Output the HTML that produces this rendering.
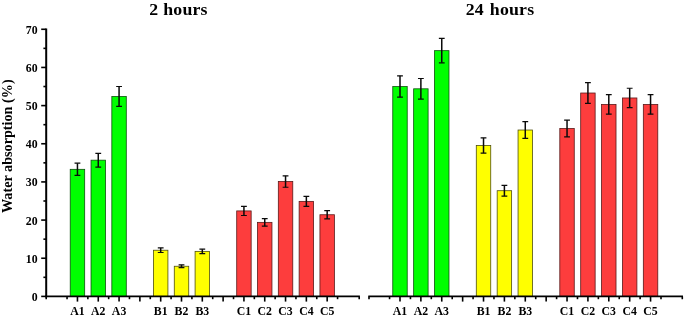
<!DOCTYPE html>
<html><head><meta charset="utf-8"><title>Water absorption</title>
<style>
html,body{margin:0;padding:0;background:#fff}
svg text{font-family:"Liberation Serif",serif;font-weight:bold;fill:#000}
.t{font-size:12.3px}
.h{font-size:17.8px;word-spacing:1.3px;letter-spacing:0.2px}
.yl{font-size:14.2px}
</style></head><body>
<svg width="685" height="319" viewBox="0 0 685 319" style="display:block">
<rect width="685" height="319" fill="#fff"/>
<rect x="70.23" y="169.33" width="14.45" height="127.07" fill="#00ff00" stroke="#0f4f0f" stroke-width="0.8"/>
<rect x="91.04" y="160.17" width="14.45" height="136.23" fill="#00ff00" stroke="#0f4f0f" stroke-width="0.8"/>
<rect x="111.84" y="96.44" width="14.45" height="199.96" fill="#00ff00" stroke="#0f4f0f" stroke-width="0.8"/>
<rect x="153.47" y="250.23" width="14.45" height="46.17" fill="#ffff00" stroke="#4f4f0f" stroke-width="0.8"/>
<rect x="174.28" y="266.25" width="14.45" height="30.15" fill="#ffff00" stroke="#4f4f0f" stroke-width="0.8"/>
<rect x="195.09" y="251.37" width="14.45" height="45.03" fill="#ffff00" stroke="#4f4f0f" stroke-width="0.8"/>
<rect x="236.71" y="210.92" width="14.45" height="85.48" fill="#fd3d3d" stroke="#5a1a1a" stroke-width="0.8"/>
<rect x="257.51" y="222.37" width="14.45" height="74.03" fill="#fd3d3d" stroke="#5a1a1a" stroke-width="0.8"/>
<rect x="278.32" y="181.54" width="14.45" height="114.86" fill="#fd3d3d" stroke="#5a1a1a" stroke-width="0.8"/>
<rect x="299.13" y="201.38" width="14.45" height="95.02" fill="#fd3d3d" stroke="#5a1a1a" stroke-width="0.8"/>
<rect x="319.94" y="214.74" width="14.45" height="81.66" fill="#fd3d3d" stroke="#5a1a1a" stroke-width="0.8"/>
<path d="M77.45 163.22V175.43" stroke="#0a0a0a" stroke-width="1.5" fill="none"/>
<path d="M74.55 163.22h5.8M74.55 175.43h5.8" stroke="#0a0a0a" stroke-width="1.2" fill="none"/>
<path d="M98.26 153.30V167.04" stroke="#0a0a0a" stroke-width="1.5" fill="none"/>
<path d="M95.36 153.30h5.8M95.36 167.04h5.8" stroke="#0a0a0a" stroke-width="1.2" fill="none"/>
<path d="M119.07 86.52V106.36" stroke="#0a0a0a" stroke-width="1.5" fill="none"/>
<path d="M116.17 86.52h5.8M116.17 106.36h5.8" stroke="#0a0a0a" stroke-width="1.2" fill="none"/>
<path d="M160.69 247.94V252.52" stroke="#0a0a0a" stroke-width="1.5" fill="none"/>
<path d="M157.79 247.94h5.8M157.79 252.52h5.8" stroke="#0a0a0a" stroke-width="1.2" fill="none"/>
<path d="M181.50 264.84V267.67" stroke="#0a0a0a" stroke-width="1.5" fill="none"/>
<path d="M178.60 264.84h5.8M178.60 267.67h5.8" stroke="#0a0a0a" stroke-width="1.2" fill="none"/>
<path d="M202.31 249.20V253.55" stroke="#0a0a0a" stroke-width="1.5" fill="none"/>
<path d="M199.41 249.20h5.8M199.41 253.55h5.8" stroke="#0a0a0a" stroke-width="1.2" fill="none"/>
<path d="M243.93 206.34V215.50" stroke="#0a0a0a" stroke-width="1.5" fill="none"/>
<path d="M241.03 206.34h5.8M241.03 215.50h5.8" stroke="#0a0a0a" stroke-width="1.2" fill="none"/>
<path d="M264.74 218.55V226.19" stroke="#0a0a0a" stroke-width="1.5" fill="none"/>
<path d="M261.84 218.55h5.8M261.84 226.19h5.8" stroke="#0a0a0a" stroke-width="1.2" fill="none"/>
<path d="M285.55 175.81V187.26" stroke="#0a0a0a" stroke-width="1.5" fill="none"/>
<path d="M282.65 175.81h5.8M282.65 187.26h5.8" stroke="#0a0a0a" stroke-width="1.2" fill="none"/>
<path d="M306.36 196.42V206.34" stroke="#0a0a0a" stroke-width="1.5" fill="none"/>
<path d="M303.46 196.42h5.8M303.46 206.34h5.8" stroke="#0a0a0a" stroke-width="1.2" fill="none"/>
<path d="M327.17 210.54V218.94" stroke="#0a0a0a" stroke-width="1.5" fill="none"/>
<path d="M324.27 210.54h5.8M324.27 218.94h5.8" stroke="#0a0a0a" stroke-width="1.2" fill="none"/>
<rect x="392.77" y="86.52" width="14.45" height="209.88" fill="#00ff00" stroke="#0f4f0f" stroke-width="0.8"/>
<rect x="413.65" y="88.81" width="14.45" height="207.59" fill="#00ff00" stroke="#0f4f0f" stroke-width="0.8"/>
<rect x="434.53" y="50.65" width="14.45" height="245.75" fill="#00ff00" stroke="#0f4f0f" stroke-width="0.8"/>
<rect x="476.29" y="145.48" width="14.45" height="150.92" fill="#ffff00" stroke="#4f4f0f" stroke-width="0.8"/>
<rect x="497.17" y="190.70" width="14.45" height="105.70" fill="#ffff00" stroke="#4f4f0f" stroke-width="0.8"/>
<rect x="518.05" y="130.02" width="14.45" height="166.38" fill="#ffff00" stroke="#4f4f0f" stroke-width="0.8"/>
<rect x="559.81" y="128.50" width="14.45" height="167.90" fill="#fd3d3d" stroke="#5a1a1a" stroke-width="0.8"/>
<rect x="580.69" y="93.01" width="14.45" height="203.39" fill="#fd3d3d" stroke="#5a1a1a" stroke-width="0.8"/>
<rect x="601.57" y="104.46" width="14.45" height="191.94" fill="#fd3d3d" stroke="#5a1a1a" stroke-width="0.8"/>
<rect x="622.45" y="97.97" width="14.45" height="198.43" fill="#fd3d3d" stroke="#5a1a1a" stroke-width="0.8"/>
<rect x="643.33" y="104.46" width="14.45" height="191.94" fill="#fd3d3d" stroke="#5a1a1a" stroke-width="0.8"/>
<path d="M400.00 75.84V97.20" stroke="#0a0a0a" stroke-width="1.5" fill="none"/>
<path d="M397.10 75.84h5.8M397.10 97.20h5.8" stroke="#0a0a0a" stroke-width="1.2" fill="none"/>
<path d="M420.88 78.51V99.11" stroke="#0a0a0a" stroke-width="1.5" fill="none"/>
<path d="M417.98 78.51h5.8M417.98 99.11h5.8" stroke="#0a0a0a" stroke-width="1.2" fill="none"/>
<path d="M441.76 38.44V62.86" stroke="#0a0a0a" stroke-width="1.5" fill="none"/>
<path d="M438.86 38.44h5.8M438.86 62.86h5.8" stroke="#0a0a0a" stroke-width="1.2" fill="none"/>
<path d="M483.52 137.85V153.11" stroke="#0a0a0a" stroke-width="1.5" fill="none"/>
<path d="M480.62 137.85h5.8M480.62 153.11h5.8" stroke="#0a0a0a" stroke-width="1.2" fill="none"/>
<path d="M504.40 185.35V196.04" stroke="#0a0a0a" stroke-width="1.5" fill="none"/>
<path d="M501.50 185.35h5.8M501.50 196.04h5.8" stroke="#0a0a0a" stroke-width="1.2" fill="none"/>
<path d="M525.28 121.63V138.42" stroke="#0a0a0a" stroke-width="1.5" fill="none"/>
<path d="M522.38 121.63h5.8M522.38 138.42h5.8" stroke="#0a0a0a" stroke-width="1.2" fill="none"/>
<path d="M567.04 120.10V136.89" stroke="#0a0a0a" stroke-width="1.5" fill="none"/>
<path d="M564.14 120.10h5.8M564.14 136.89h5.8" stroke="#0a0a0a" stroke-width="1.2" fill="none"/>
<path d="M587.92 82.63V103.39" stroke="#0a0a0a" stroke-width="1.5" fill="none"/>
<path d="M585.02 82.63h5.8M585.02 103.39h5.8" stroke="#0a0a0a" stroke-width="1.2" fill="none"/>
<path d="M608.80 94.72V114.19" stroke="#0a0a0a" stroke-width="1.5" fill="none"/>
<path d="M605.90 94.72h5.8M605.90 114.19h5.8" stroke="#0a0a0a" stroke-width="1.2" fill="none"/>
<path d="M629.68 88.24V107.70" stroke="#0a0a0a" stroke-width="1.5" fill="none"/>
<path d="M626.78 88.24h5.8M626.78 107.70h5.8" stroke="#0a0a0a" stroke-width="1.2" fill="none"/>
<path d="M650.56 94.72V114.19" stroke="#0a0a0a" stroke-width="1.5" fill="none"/>
<path d="M647.66 94.72h5.8M647.66 114.19h5.8" stroke="#0a0a0a" stroke-width="1.2" fill="none"/>
<path d="M46.20 28.48V297.35" stroke="#000" stroke-width="2" fill="none"/>
<path d="M45.20 296.40H359.90M368.30 296.40H683.00" stroke="#000" stroke-width="1.9" fill="none"/>
<path d="M41.20 296.40H46.20" stroke="#000" stroke-width="1.6"/>
<text transform="translate(37.60 300.90) scale(.96 1.07)" text-anchor="end" class="t">0</text>
<path d="M41.20 258.24H46.20" stroke="#000" stroke-width="1.6"/>
<text transform="translate(37.60 262.74) scale(.96 1.07)" text-anchor="end" class="t">10</text>
<path d="M41.20 220.08H46.20" stroke="#000" stroke-width="1.6"/>
<text transform="translate(37.60 224.58) scale(.96 1.07)" text-anchor="end" class="t">20</text>
<path d="M41.20 181.92H46.20" stroke="#000" stroke-width="1.6"/>
<text transform="translate(37.60 186.42) scale(.96 1.07)" text-anchor="end" class="t">30</text>
<path d="M41.20 143.76H46.20" stroke="#000" stroke-width="1.6"/>
<text transform="translate(37.60 148.26) scale(.96 1.07)" text-anchor="end" class="t">40</text>
<path d="M41.20 105.60H46.20" stroke="#000" stroke-width="1.6"/>
<text transform="translate(37.60 110.10) scale(.96 1.07)" text-anchor="end" class="t">50</text>
<path d="M41.20 67.44H46.20" stroke="#000" stroke-width="1.6"/>
<text transform="translate(37.60 71.94) scale(.96 1.07)" text-anchor="end" class="t">60</text>
<path d="M41.20 29.28H46.20" stroke="#000" stroke-width="1.6"/>
<text transform="translate(37.60 33.78) scale(.96 1.07)" text-anchor="end" class="t">70</text>
<path d="M43.40 277.32H46.20" stroke="#000" stroke-width="1.6"/>
<path d="M43.40 239.16H46.20" stroke="#000" stroke-width="1.6"/>
<path d="M43.40 201.00H46.20" stroke="#000" stroke-width="1.6"/>
<path d="M43.40 162.84H46.20" stroke="#000" stroke-width="1.6"/>
<path d="M43.40 124.68H46.20" stroke="#000" stroke-width="1.6"/>
<path d="M43.40 86.52H46.20" stroke="#000" stroke-width="1.6"/>
<path d="M43.40 48.36H46.20" stroke="#000" stroke-width="1.6"/>
<path d="M77.45 296.40v5.2" stroke="#000" stroke-width="1.6"/>
<path d="M98.26 296.40v5.2" stroke="#000" stroke-width="1.6"/>
<path d="M119.07 296.40v5.2" stroke="#000" stroke-width="1.6"/>
<path d="M139.88 296.40v5.2" stroke="#000" stroke-width="1.6"/>
<path d="M160.69 296.40v5.2" stroke="#000" stroke-width="1.6"/>
<path d="M181.50 296.40v5.2" stroke="#000" stroke-width="1.6"/>
<path d="M202.31 296.40v5.2" stroke="#000" stroke-width="1.6"/>
<path d="M223.12 296.40v5.2" stroke="#000" stroke-width="1.6"/>
<path d="M243.93 296.40v5.2" stroke="#000" stroke-width="1.6"/>
<path d="M264.74 296.40v5.2" stroke="#000" stroke-width="1.6"/>
<path d="M285.55 296.40v5.2" stroke="#000" stroke-width="1.6"/>
<path d="M306.36 296.40v5.2" stroke="#000" stroke-width="1.6"/>
<path d="M327.17 296.40v5.2" stroke="#000" stroke-width="1.6"/>
<path d="M67.05 296.40v2.8" stroke="#000" stroke-width="1.6"/>
<path d="M87.86 296.40v2.8" stroke="#000" stroke-width="1.6"/>
<path d="M108.66 296.40v2.8" stroke="#000" stroke-width="1.6"/>
<path d="M129.47 296.40v2.8" stroke="#000" stroke-width="1.6"/>
<path d="M150.28 296.40v2.8" stroke="#000" stroke-width="1.6"/>
<path d="M171.09 296.40v2.8" stroke="#000" stroke-width="1.6"/>
<path d="M191.91 296.40v2.8" stroke="#000" stroke-width="1.6"/>
<path d="M212.71 296.40v2.8" stroke="#000" stroke-width="1.6"/>
<path d="M233.52 296.40v2.8" stroke="#000" stroke-width="1.6"/>
<path d="M254.33 296.40v2.8" stroke="#000" stroke-width="1.6"/>
<path d="M275.14 296.40v2.8" stroke="#000" stroke-width="1.6"/>
<path d="M295.95 296.40v2.8" stroke="#000" stroke-width="1.6"/>
<path d="M316.76 296.40v2.8" stroke="#000" stroke-width="1.6"/>
<path d="M337.57 296.40v2.8" stroke="#000" stroke-width="1.6"/>
<path d="M46.20 296.40v2.8M359.20 296.40v2.8" stroke="#000" stroke-width="1.6"/>
<text transform="translate(77.45 314.80) scale(.96 1.07)" text-anchor="middle" class="t">A1</text>
<text transform="translate(98.26 314.80) scale(.96 1.07)" text-anchor="middle" class="t">A2</text>
<text transform="translate(119.07 314.80) scale(.96 1.07)" text-anchor="middle" class="t">A3</text>
<text transform="translate(160.69 314.80) scale(.96 1.07)" text-anchor="middle" class="t">B1</text>
<text transform="translate(181.50 314.80) scale(.96 1.07)" text-anchor="middle" class="t">B2</text>
<text transform="translate(202.31 314.80) scale(.96 1.07)" text-anchor="middle" class="t">B3</text>
<text transform="translate(243.93 314.80) scale(.96 1.07)" text-anchor="middle" class="t">C1</text>
<text transform="translate(264.74 314.80) scale(.96 1.07)" text-anchor="middle" class="t">C2</text>
<text transform="translate(285.55 314.80) scale(.96 1.07)" text-anchor="middle" class="t">C3</text>
<text transform="translate(306.36 314.80) scale(.96 1.07)" text-anchor="middle" class="t">C4</text>
<text transform="translate(327.17 314.80) scale(.96 1.07)" text-anchor="middle" class="t">C5</text>
<path d="M400.00 296.40v5.2" stroke="#000" stroke-width="1.6"/>
<path d="M420.88 296.40v5.2" stroke="#000" stroke-width="1.6"/>
<path d="M441.76 296.40v5.2" stroke="#000" stroke-width="1.6"/>
<path d="M462.64 296.40v5.2" stroke="#000" stroke-width="1.6"/>
<path d="M483.52 296.40v5.2" stroke="#000" stroke-width="1.6"/>
<path d="M504.40 296.40v5.2" stroke="#000" stroke-width="1.6"/>
<path d="M525.28 296.40v5.2" stroke="#000" stroke-width="1.6"/>
<path d="M546.16 296.40v5.2" stroke="#000" stroke-width="1.6"/>
<path d="M567.04 296.40v5.2" stroke="#000" stroke-width="1.6"/>
<path d="M587.92 296.40v5.2" stroke="#000" stroke-width="1.6"/>
<path d="M608.80 296.40v5.2" stroke="#000" stroke-width="1.6"/>
<path d="M629.68 296.40v5.2" stroke="#000" stroke-width="1.6"/>
<path d="M650.56 296.40v5.2" stroke="#000" stroke-width="1.6"/>
<path d="M389.56 296.40v2.8" stroke="#000" stroke-width="1.6"/>
<path d="M410.44 296.40v2.8" stroke="#000" stroke-width="1.6"/>
<path d="M431.32 296.40v2.8" stroke="#000" stroke-width="1.6"/>
<path d="M452.20 296.40v2.8" stroke="#000" stroke-width="1.6"/>
<path d="M473.08 296.40v2.8" stroke="#000" stroke-width="1.6"/>
<path d="M493.96 296.40v2.8" stroke="#000" stroke-width="1.6"/>
<path d="M514.84 296.40v2.8" stroke="#000" stroke-width="1.6"/>
<path d="M535.72 296.40v2.8" stroke="#000" stroke-width="1.6"/>
<path d="M556.60 296.40v2.8" stroke="#000" stroke-width="1.6"/>
<path d="M577.48 296.40v2.8" stroke="#000" stroke-width="1.6"/>
<path d="M598.36 296.40v2.8" stroke="#000" stroke-width="1.6"/>
<path d="M619.24 296.40v2.8" stroke="#000" stroke-width="1.6"/>
<path d="M640.12 296.40v2.8" stroke="#000" stroke-width="1.6"/>
<path d="M661.00 296.40v2.8" stroke="#000" stroke-width="1.6"/>
<path d="M369.00 296.40v2.8M682.30 296.40v2.8" stroke="#000" stroke-width="1.6"/>
<text transform="translate(400.00 314.80) scale(.96 1.07)" text-anchor="middle" class="t">A1</text>
<text transform="translate(420.88 314.80) scale(.96 1.07)" text-anchor="middle" class="t">A2</text>
<text transform="translate(441.76 314.80) scale(.96 1.07)" text-anchor="middle" class="t">A3</text>
<text transform="translate(483.52 314.80) scale(.96 1.07)" text-anchor="middle" class="t">B1</text>
<text transform="translate(504.40 314.80) scale(.96 1.07)" text-anchor="middle" class="t">B2</text>
<text transform="translate(525.28 314.80) scale(.96 1.07)" text-anchor="middle" class="t">B3</text>
<text transform="translate(567.04 314.80) scale(.96 1.07)" text-anchor="middle" class="t">C1</text>
<text transform="translate(587.92 314.80) scale(.96 1.07)" text-anchor="middle" class="t">C2</text>
<text transform="translate(608.80 314.80) scale(.96 1.07)" text-anchor="middle" class="t">C3</text>
<text transform="translate(629.68 314.80) scale(.96 1.07)" text-anchor="middle" class="t">C4</text>
<text transform="translate(650.56 314.80) scale(.96 1.07)" text-anchor="middle" class="t">C5</text>
<text transform="translate(178.5 15) scale(1 .975)" text-anchor="middle" class="h" style="word-spacing:0.2px">2 hours</text>
<text transform="translate(500 15) scale(1 .975)" text-anchor="middle" class="h">24 hours</text>
<text transform="translate(12.1 146.2) rotate(-90)" text-anchor="middle" class="yl">Water absorption (%)</text>
</svg>
</body></html>
